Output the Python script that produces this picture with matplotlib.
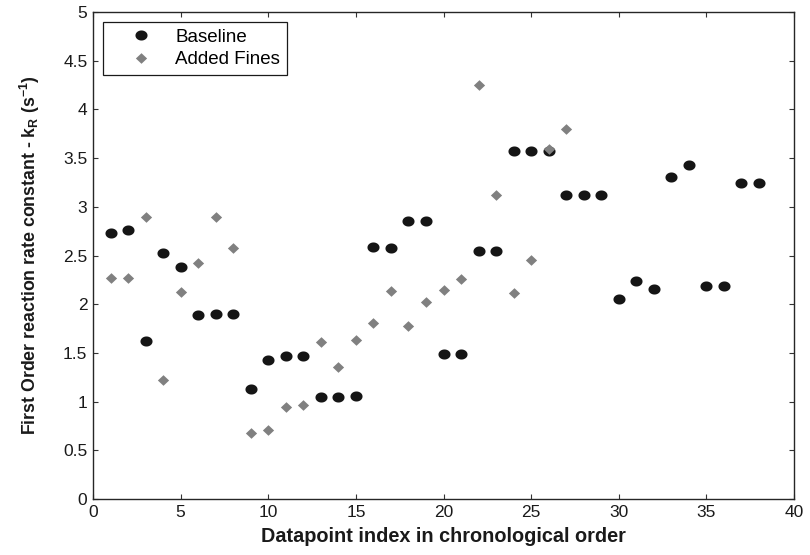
import matplotlib
matplotlib.use("Agg")
import matplotlib.pyplot as plt
from matplotlib.path import Path
import numpy as np

plt.rcParams["font.family"] = ["Liberation Sans", "DejaVu Sans"]
plt.rcParams["mathtext.fontset"] = "custom"
plt.rcParams["mathtext.rm"] = "Liberation Sans"
plt.rcParams["mathtext.bf"] = "Liberation Sans:bold"

# first order rate constants, in chronological order
baseline_idx = list(range(1, 39))
baseline_kr = [2.73, 2.76, 1.62, 2.53, 2.38, 1.89, 1.90, 1.90, 1.13, 1.43,
               1.47, 1.47, 1.05, 1.05, 1.06, 2.59, 2.58, 2.85, 2.85, 1.49,
               1.49, 2.55, 2.55, 3.57, 3.57, 3.57, 3.12, 3.12, 3.12, 2.05,
               2.24, 2.16, 3.31, 3.43, 2.19, 2.19, 3.24, 3.24]

fines_idx = list(range(1, 28))
fines_kr = [2.27, 2.27, 2.90, 1.22, 2.13, 2.42, 2.90, 2.58, 0.68, 0.71,
            0.94, 0.96, 1.61, 1.36, 1.63, 1.81, 2.14, 1.78, 2.02, 2.15,
            2.26, 4.25, 3.12, 2.12, 2.45, 3.59, 3.80]

x_ticks = [0, 5, 10, 15, 20, 25, 30, 35, 40]
y_ticks = [0, 0.5, 1, 1.5, 2, 2.5, 3, 3.5, 4, 4.5, 5]

# slightly wide ellipse and diamond markers
t = np.linspace(0, 2 * np.pi, 60)
ellipse = Path(np.column_stack([1.2 * np.cos(t), np.sin(t)]), closed=True)
diamond = Path([(0, 1), (1.06, 0), (0, -1), (-1.06, 0), (0, 1)], closed=True)

fig = plt.figure(figsize=(8.1, 5.55), dpi=100)
ax = fig.add_axes([93 / 810, 56 / 555, 701 / 810, 487 / 555])

ax.plot(baseline_idx, baseline_kr, linestyle="none", marker=ellipse,
        markersize=8.7, color="#151515", markeredgewidth=0, label="Baseline")
ax.plot(fines_idx, fines_kr, linestyle="none", marker=diamond,
        markersize=8.1, color="#808080", markeredgewidth=0, label="Added Fines")

ax.set_xlim(0, 40)
ax.set_ylim(0, 5)
ax.set_xticks(x_ticks)
ax.set_yticks(y_ticks)
ax.set_xticklabels([str(v) for v in x_ticks])
ax.set_yticklabels(["%g" % v for v in y_ticks])
ax.tick_params(direction="in", top=True, right=True, length=3.6, width=0.8,
               color="#333333", labelsize=12.5, labelcolor="#1a1a1a", pad=4)
for sp in ax.spines.values():
    sp.set_color("#262626")
    sp.set_linewidth(1.0)

ax.set_xlabel("Datapoint index in chronological order", fontsize=14.3,
              fontweight="bold", color="#1a1a1a", va="baseline")
ax.xaxis.set_label_coords(0.5, -0.088)
ax.set_ylabel(r"First Order reaction rate constant - k$_\mathbf{R}$ (s$^\mathbf{-1}$)",
              fontsize=12.8, fontweight="bold", color="#1a1a1a",
              ha="center", va="center")
ax.yaxis.set_label_coords(-0.09, 0.5)

leg = ax.legend(loc="upper left", bbox_to_anchor=(10 / 701, 1 - 10 / 487),
                borderaxespad=0, fontsize=13.5, handlelength=3.3,
                handletextpad=0.2, labelspacing=0.3, borderpad=0.35,
                fancybox=False, framealpha=1)
leg.get_frame().set_edgecolor("#1a1a1a")
leg.get_frame().set_linewidth(0.9)

fig.savefig("out.png", dpi=100)
